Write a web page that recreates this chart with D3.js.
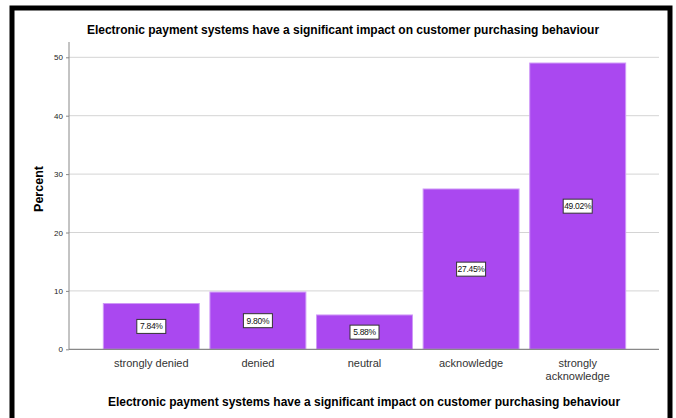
<!DOCTYPE html>
<html>
<head>
<meta charset="utf-8">
<script src="https://cdn.jsdelivr.net/npm/d3@7"></script>
<style>
  html, body { margin: 0; padding: 0; background: #fff; }
  svg { display: block; font-family: "Liberation Sans", Arial, sans-serif; }
</style>
</head>
<body>
<svg id="chart" width="676" height="418"></svg>
<script>
// Survey response shares (percent)
const categories = ["strongly denied", "denied", "neutral", "acknowledge", "strongly acknowledge"];
const percents = [7.84, 9.80, 5.88, 27.45, 49.02];
const yTicks = [0, 10, 20, 30, 40, 50];
const chartTitle = "Electronic payment systems have a significant impact on customer purchasing behaviour";
const yTitle = "Percent";

const svg = d3.select("#chart");

// outer frame
svg.append("rect")
  .attr("x", 12).attr("y", 8)
  .attr("width", 658).attr("height", 430)
  .attr("fill", "#fff")
  .attr("stroke", "#000")
  .attr("stroke-width", 5);

const plot = { left: 69, right: 659, top: 42, bottom: 349.3 };

const y = d3.scaleLinear().domain([0, 50]).range([plot.bottom, 57.3]);
const x = d3.scaleBand()
  .domain(categories)
  .range([98, 631])
  .paddingInner(0.1)
  .paddingOuter(0.05);

// gridlines
svg.append("g")
  .selectAll("line")
  .data(yTicks.filter(t => t > 0))
  .join("line")
  .attr("x1", plot.left).attr("x2", plot.right)
  .attr("y1", d => y(d)).attr("y2", d => y(d))
  .attr("stroke", "#d4d4d4")
  .attr("stroke-width", 1);

// y axis
const yAxis = svg.append("g")
  .attr("transform", `translate(${plot.left},0)`)
  .call(d3.axisLeft(y).tickValues(yTicks).tickSize(3).tickPadding(3));
yAxis.select(".domain").attr("d", `M0,${plot.top}V${plot.bottom}`).attr("stroke", "#888");
yAxis.selectAll(".tick line").attr("stroke", "#888");
yAxis.selectAll(".tick text")
  .attr("font-size", 8)
  .attr("fill", "#222")
  .attr("font-family", "'Liberation Sans', Arial, sans-serif");

// bars
svg.append("g")
  .selectAll("rect")
  .data(categories.map((c, i) => ({ c, v: percents[i] })))
  .join("rect")
  .attr("x", d => x(d.c))
  .attr("width", x.bandwidth())
  .attr("y", d => y(d.v))
  .attr("height", d => y(0) - y(d.v))
  .attr("fill", "#aa48f0")
  .attr("stroke", "#cf99f7")
  .attr("stroke-width", 1);

// x axis baseline
svg.append("line")
  .attr("x1", plot.left).attr("x2", plot.right)
  .attr("y1", plot.bottom).attr("y2", plot.bottom)
  .attr("stroke", "#888")
  .attr("stroke-width", 1.2);

// value labels in boxes
const labels = svg.append("g")
  .selectAll("g")
  .data(categories.map((c, i) => ({ c, v: percents[i] })))
  .join("g")
  .attr("transform", d => `translate(${x(d.c) + x.bandwidth() / 2},${(y(d.v) + y(0)) / 2})`);
labels.append("rect")
  .attr("x", -14.5).attr("y", -7)
  .attr("width", 29).attr("height", 14)
  .attr("fill", "#fff")
  .attr("stroke", "#333")
  .attr("stroke-width", 1);
labels.append("text")
  .attr("text-anchor", "middle")
  .attr("dy", "0.35em")
  .attr("font-size", 8.5)
  .attr("letter-spacing", -0.3)
  .attr("fill", "#111")
  .text(d => d.v.toFixed(2) + "%");

// category labels
const catLabels = svg.append("g")
  .selectAll("text")
  .data(categories)
  .join("text")
  .attr("x", d => x(d) + x.bandwidth() / 2)
  .attr("y", 367)
  .attr("text-anchor", "middle")
  .attr("font-size", 11)
  .attr("fill", "#333");
catLabels.each(function (d) {
  const t = d3.select(this);
  if (d === "strongly acknowledge") {
    t.append("tspan").attr("x", x(d) + x.bandwidth() / 2).text("strongly");
    t.append("tspan").attr("x", x(d) + x.bandwidth() / 2).attr("dy", 12.5).text("acknowledge");
  } else {
    t.text(d);
  }
});

// titles
svg.append("text")
  .attr("x", 343).attr("y", 34)
  .attr("text-anchor", "middle")
  .attr("font-size", 12)
  .attr("font-weight", "bold")
  .attr("fill", "#000")
  .text(chartTitle);

svg.append("text")
  .attr("x", 364).attr("y", 406)
  .attr("text-anchor", "middle")
  .attr("font-size", 12)
  .attr("font-weight", "bold")
  .attr("fill", "#000")
  .text(chartTitle);

svg.append("text")
  .attr("transform", `translate(43,189) rotate(-90)`)
  .attr("text-anchor", "middle")
  .attr("font-size", 12.5)
  .attr("font-weight", "bold")
  .attr("fill", "#000")
  .text(yTitle);
</script>
</body>
</html>
